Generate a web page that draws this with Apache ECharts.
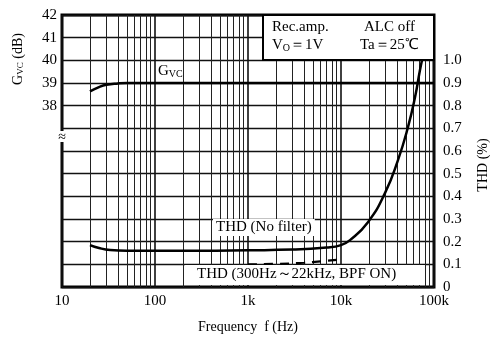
<!DOCTYPE html>
<html>
<head>
<meta charset="utf-8">
<script src="https://cdn.jsdelivr.net/npm/echarts@6/dist/echarts.min.js"></script>
<style>
  html, body { margin: 0; padding: 0; background: #fff; }
  #chart { width: 490px; height: 340px; }
</style>
</head>
<body>
<div id="chart"></div>
<script>
// frequency axis (Hz)
var xTickLabels = {10: '10', 100: '100', 1000: '1k', 10000: '10k', 100000: '100k'};
var minorFreqs = [20, 30, 40, 50, 60, 70, 80, 90,
    200, 300, 400, 500, 600, 700, 800, 900,
    2000, 3000, 4000, 5000, 6000, 7000, 8000, 9000,
    20000, 30000, 40000, 50000, 60000, 70000, 80000, 90000];

// Gvc (dB), left axis
var gvcFreq = [20, 25, 30, 40, 50, 100, 1000, 10000, 100000];
var gvcVal = [38.63, 38.82, 38.92, 38.98, 39, 39, 39, 39, 39];

// THD no filter (%), right axis
var thdFreq = [20, 25, 33, 50, 100, 300, 1000, 3000, 7000, 10000, 12500, 19500, 29700, 41000, 52500, 62500, 70600, 74300];
var thdVal = [0.185, 0.172, 0.163, 0.16, 0.16, 0.16, 0.162, 0.165, 0.174, 0.185, 0.207, 0.286, 0.414, 0.56, 0.705, 0.837, 0.956, 1.0];

// THD 300Hz~22kHz BPF ON (%), right axis
var bpfFreq = [1000, 2000, 4000, 6000, 9000];
var bpfVal = [0.10, 0.102, 0.107, 0.113, 0.12];

function zip(xs, ys) {
    return xs.map(function (x, i) { return [x, ys[i]]; });
}

var serif = '"Liberation Serif", "Times New Roman", serif';
var myChart = echarts.init(document.getElementById('chart'));

myChart.setOption({
    animation: false,
    textStyle: {fontFamily: serif, color: '#000'},
    grid: {
        left: 62, right: 56, top: 15, bottom: 53,
        show: true, borderColor: '#000', borderWidth: 3
    },
    xAxis: {
        type: 'log',
        logBase: 10,
        min: 10,
        max: 100000,
        axisLine: {show: false},
        axisTick: {show: false},
        axisLabel: {
            fontFamily: serif, fontSize: 15, color: '#000', margin: 7,
            formatter: function (v) { return xTickLabels[v] || ''; }
        },
        splitLine: {show: true, lineStyle: {color: '#111', width: 1.6}}
    },
    yAxis: [
        {
            type: 'value',
            min: 30,
            max: 42,
            interval: 1,
            position: 'left',
            axisLine: {show: false},
            axisTick: {show: false},
            splitLine: {show: false},
            axisLabel: {
                fontFamily: serif, fontSize: 15, color: '#000', margin: 5,
                formatter: function (v) { return v >= 38 ? String(v) : ''; }
            }
        },
        {
            type: 'value',
            min: 0,
            max: 1.2,
            interval: 0.1,
            position: 'right',
            axisLine: {show: false},
            axisTick: {show: false},
            splitLine: {show: true, lineStyle: {color: '#111', width: 1.4}},
            axisLabel: {
                fontFamily: serif, fontSize: 15, color: '#000', margin: 9,
                formatter: function (v) {
                    if (v > 1.05) return '';
                    return v < 0.01 ? '0' : v.toFixed(1);
                }
            }
        }
    ],
    series: [
        {
            name: 'grid',
            type: 'line',
            data: [],
            markLine: {
                silent: true,
                symbol: ['none', 'none'],
                label: {show: false},
                lineStyle: {color: '#222', width: 1, type: 'solid'},
                data: minorFreqs.map(function (f) { return {xAxis: f}; })
            }
        },
        {
            name: 'Gvc',
            type: 'line',
            yAxisIndex: 0,
            smooth: true,
            symbol: 'none',
            lineStyle: {color: '#000', width: 2.5},
            data: zip(gvcFreq, gvcVal),
            z: 5
        },
        {
            name: 'THD (No filter)',
            type: 'line',
            yAxisIndex: 1,
            smooth: true,
            symbol: 'none',
            lineStyle: {color: '#000', width: 2.5},
            data: zip(thdFreq, thdVal),
            z: 5
        },
        {
            name: 'THD BPF ON',
            type: 'line',
            yAxisIndex: 1,
            smooth: true,
            symbol: 'none',
            lineStyle: {color: '#000', width: 2.2, type: [9, 7]},
            data: zip(bpfFreq, bpfVal),
            z: 5
        }
    ],
    graphic: [
        // condition box, top right
        {
            type: 'rect', z: 100,
            shape: {x: 263, y: 15, width: 171, height: 45},
            style: {fill: '#fff', stroke: '#000', lineWidth: 2}
        },
        {
            type: 'text', z: 101, left: 272, top: 20,
            style: {text: 'Rec.amp.', font: '15px ' + serif, fill: '#000'}
        },
        {
            type: 'text', z: 101, left: 272, top: 38,
            style: {
                text: '{n|V}{s|O}{n|＝1V}',
                rich: {
                    n: {font: '15px ' + serif, fill: '#000'},
                    s: {font: '10px ' + serif, fill: '#000', verticalAlign: 'bottom', padding: [6, 0, 0, 0]}
                }
            }
        },
        {
            type: 'text', z: 101, left: 364, top: 20,
            style: {text: 'ALC off', font: '15px ' + serif, fill: '#000'}
        },
        {
            type: 'text', z: 101, left: 360, top: 38,
            style: {text: 'Ta＝25℃', font: '15px ' + serif, fill: '#000'}
        },
        // Gvc curve label
        {
            type: 'text', z: 101, left: 158, top: 64,
            style: {
                text: '{n|G}{s|VC}',
                rich: {
                    n: {font: '15px ' + serif, fill: '#000'},
                    s: {font: '10px ' + serif, fill: '#000', padding: [6, 0, 0, 0]}
                }
            }
        },
        // THD (No filter) label
        {
            type: 'text', z: 101, left: 213, top: 219,
            style: {
                text: 'THD (No filter)', font: '15px ' + serif, fill: '#000',
                backgroundColor: '#fff', padding: [1, 3, 1, 3]
            }
        },
        // THD BPF label
        {
            type: 'rect', z: 100,
            shape: {x: 185, y: 265, width: 240, height: 20},
            style: {fill: '#fff'}
        },
        {
            type: 'text', z: 101, left: 197, top: 267,
            style: {text: 'THD (300Hz～22kHz, BPF ON)', font: '15px ' + serif, fill: '#000'}
        },
        // axis break mark
        {
            type: 'rect', z: 100,
            shape: {x: 59, y: 131, width: 7, height: 11},
            style: {fill: '#fff'}
        },
        {
            type: 'text', z: 101, x: 62, y: 137,
            style: {text: '≈', font: '14px ' + serif, fill: '#000', align: 'center', verticalAlign: 'middle'}
        },
        // axis titles
        {
            type: 'text', z: 101, x: 18, y: 59, rotation: Math.PI / 2,
            style: {
                text: '{n|G}{s|VC}{n| (dB)}',
                align: 'center', verticalAlign: 'middle',
                rich: {
                    n: {font: '14px ' + serif, fill: '#000'},
                    s: {font: '9px ' + serif, fill: '#000', padding: [5, 0, 0, 0]}
                }
            }
        },
        {
            type: 'text', z: 101, x: 483, y: 165, rotation: Math.PI / 2,
            style: {text: 'THD (%)', font: '14px ' + serif, fill: '#000', align: 'center', verticalAlign: 'middle'}
        },
        {
            type: 'text', z: 101, x: 248, y: 327,
            style: {text: 'Frequency  f (Hz)', font: '14px ' + serif, fill: '#000', align: 'center', verticalAlign: 'middle'}
        }
    ]
});
</script>
</body>
</html>
